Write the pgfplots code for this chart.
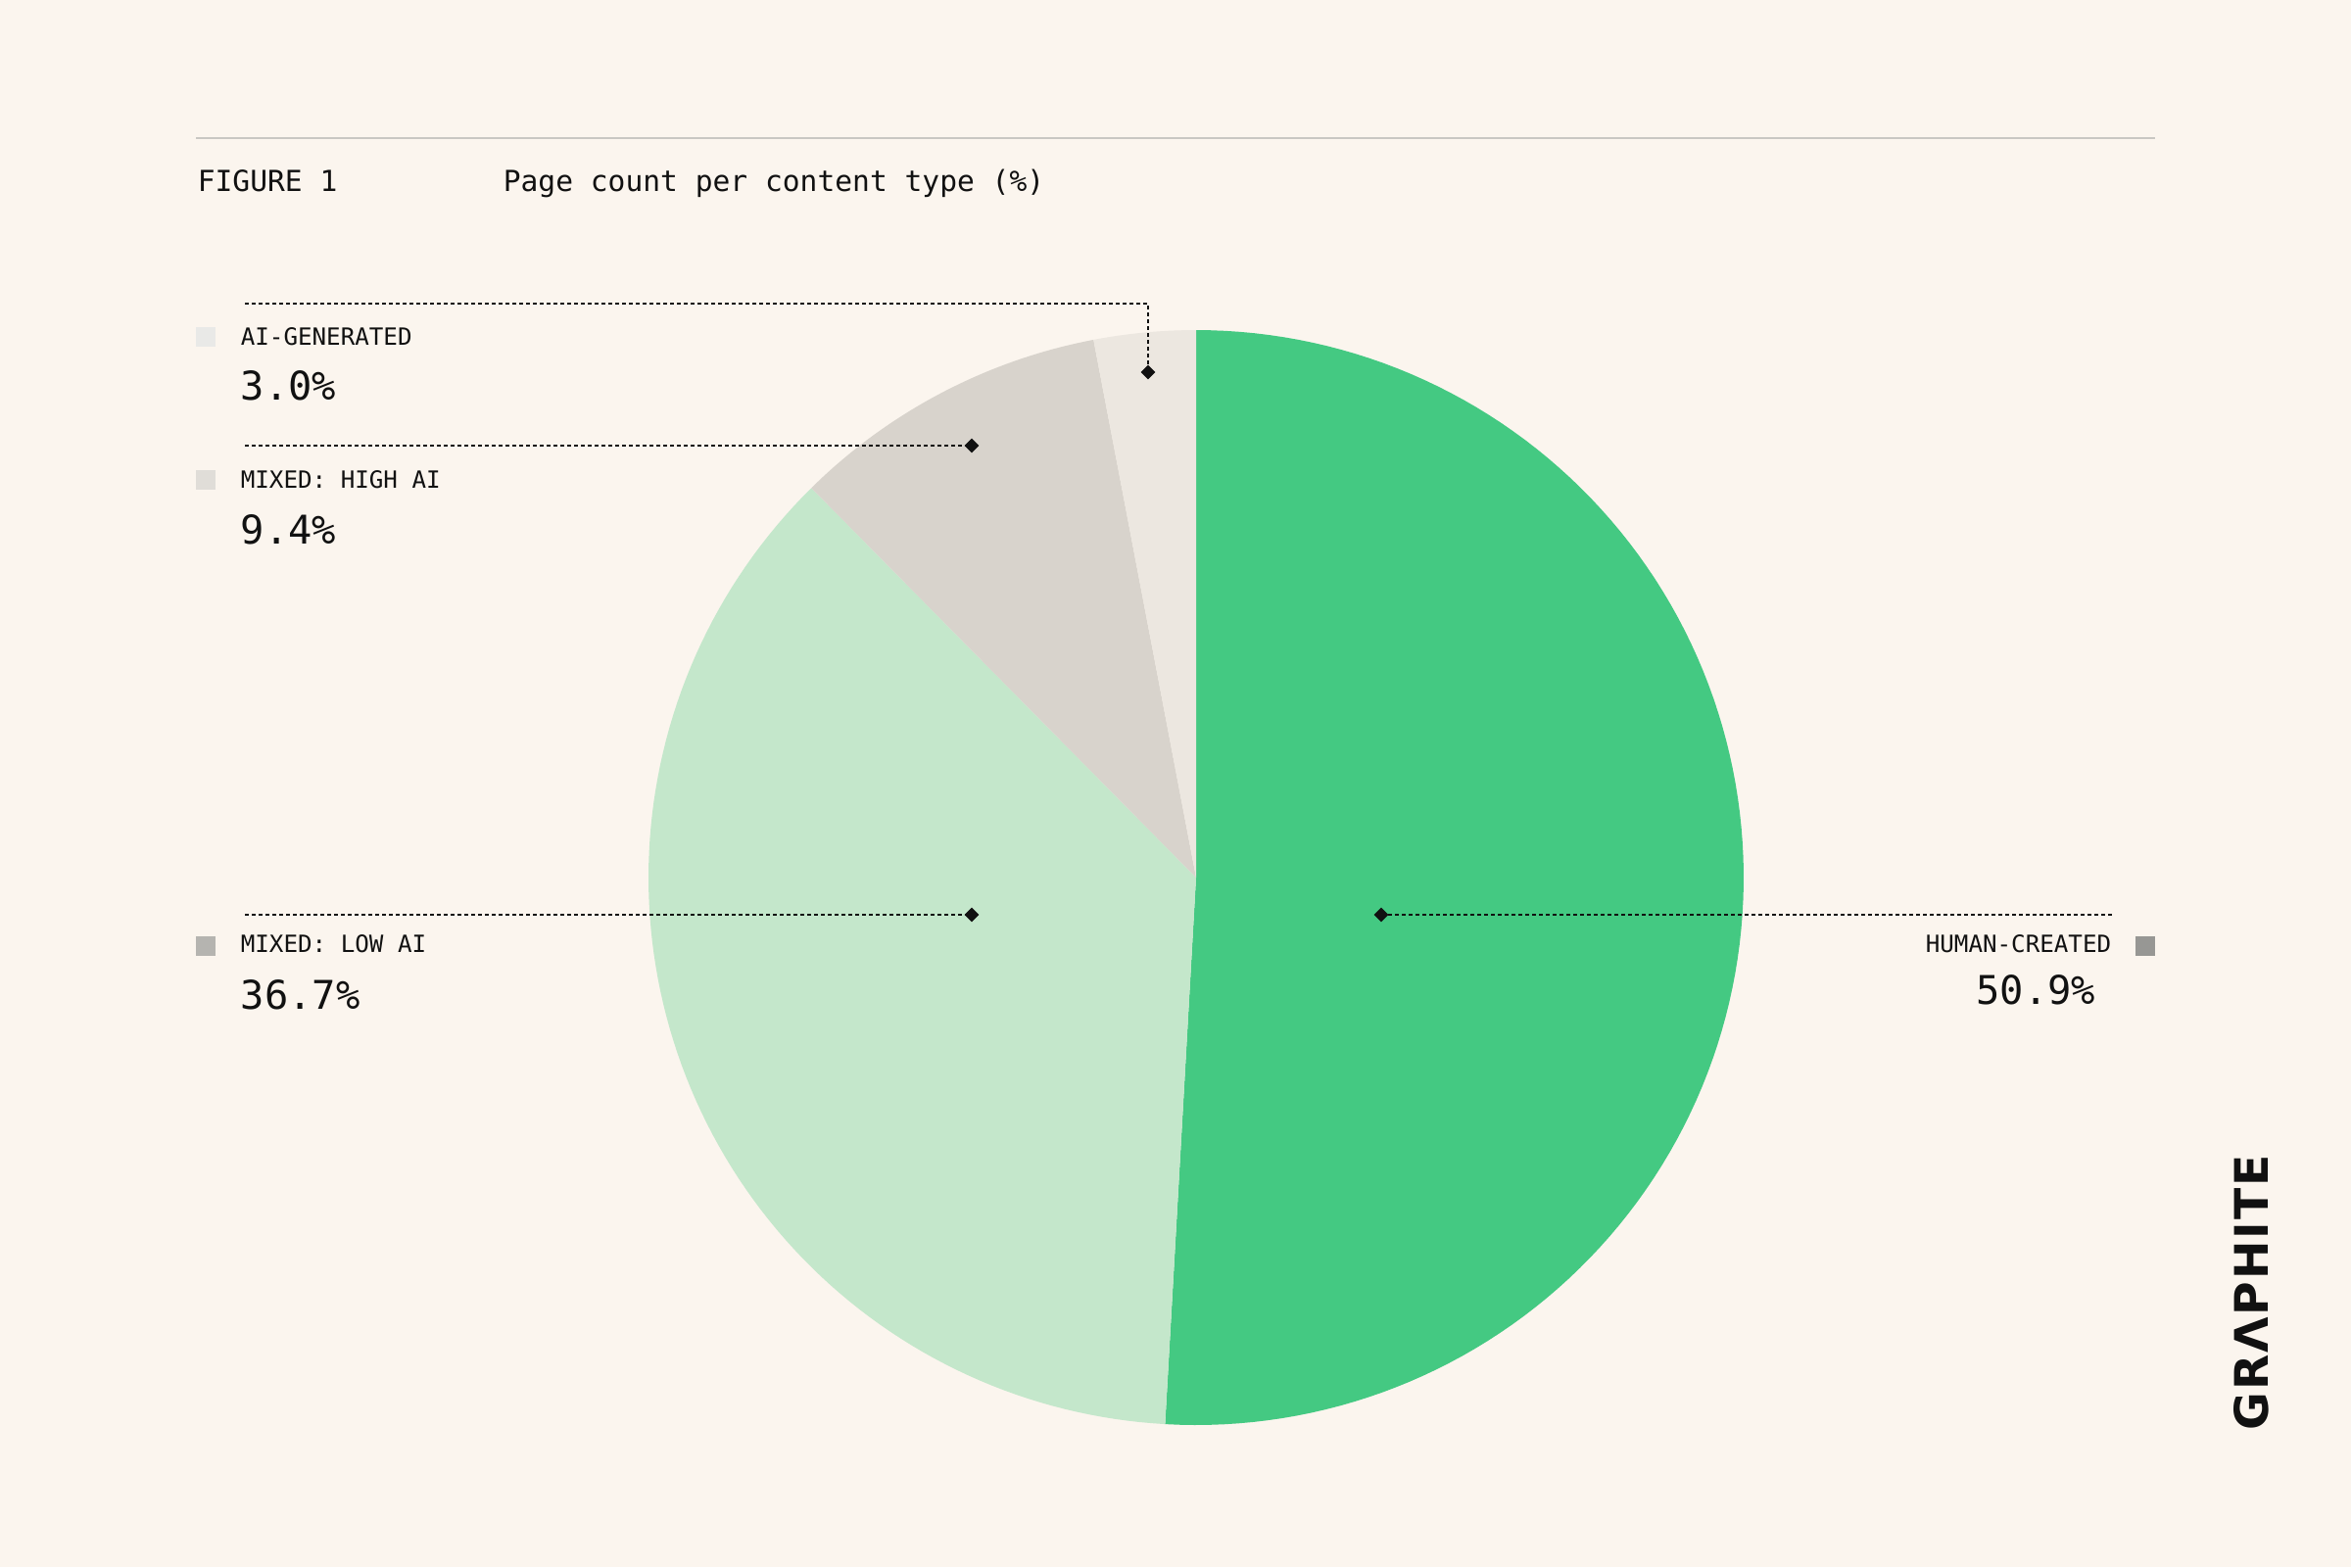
\documentclass[border=0pt]{standalone}
\usepackage{pgfplots}
\pgfplotsset{compat=1.18}
\usepackage{fontspec}
\setmainfont{DejaVu Sans Mono}
\newfontfamily\mono{DejaVu Sans Mono}
\newfontfamily\logofont[LetterSpace=4]{DejaVu Sans}

\definecolor{bg}{HTML}{FBF5EE}
\definecolor{rule}{HTML}{C9C7C2}
\definecolor{human}{HTML}{44C982}
\definecolor{lowai}{HTML}{C4E7CB}
\definecolor{highai}{HTML}{D8D3CC}
\definecolor{aigen}{HTML}{ECE7E0}
\definecolor{sqaigen}{HTML}{E9E9E7}
\definecolor{sqhigh}{HTML}{E0DDD8}
\definecolor{sqlow}{HTML}{B5B4B0}
\definecolor{sqhuman}{HTML}{979794}
\definecolor{ink}{HTML}{111111}

% centre and radius of the pie, in picture pixels
\def\cx{1221}
\def\cy{896}
\def\rr{559}

\begin{document}
\begin{tikzpicture}
\begin{axis}[
    scale only axis,
    width=600pt, height=400pt,
    xmin=0, xmax=2400,
    ymin=0, ymax=1600,
    y dir=reverse,
    hide axis,
    clip=false,
]
% background and top rule
\fill[bg] (axis cs:0,0) rectangle (axis cs:2400,1600);
\addplot[rule, line width=0.5pt] coordinates {(200,141) (2200,141)};

% slices: 50.9, 36.7, 9.4, 3.0 (percent), clockwise from 12 o'clock
\addplot[fill=human, draw=none, domain=90-3.6*50.9:90, samples=120, variable=\t]
    ({\cx+\rr*cos(\t)}, {\cy-\rr*sin(\t)}) -- (axis cs:\cx,\cy) -- cycle;
\addplot[fill=lowai, draw=none, domain=90-3.6*87.6:90-3.6*50.9, samples=100, variable=\t]
    ({\cx+\rr*cos(\t)}, {\cy-\rr*sin(\t)}) -- (axis cs:\cx,\cy) -- cycle;
\addplot[fill=highai, draw=none, domain=90-3.6*97.0:90-3.6*87.6, samples=40, variable=\t]
    ({\cx+\rr*cos(\t)}, {\cy-\rr*sin(\t)}) -- (axis cs:\cx,\cy) -- cycle;
\addplot[fill=aigen, draw=none, domain=90-3.6*100:90-3.6*97.0, samples=20, variable=\t]
    ({\cx+\rr*cos(\t)}, {\cy-\rr*sin(\t)}) -- (axis cs:\cx,\cy) -- cycle;

% leader lines
\pgfplotsset{leader/.style={ink, line width=0.5pt, dash pattern=on 1pt off 0.75pt}}
\addplot[leader] coordinates {(250,310) (1172,310) (1172,380)};
\addplot[leader] coordinates {(250,455) (992,455)};
\addplot[leader] coordinates {(250,934) (992,934)};
\addplot[leader] coordinates {(1410,934) (2156,934)};
\addplot[only marks, color=ink, mark=square*, mark size=1.1pt, mark options={rotate=45}]
    coordinates {(1172,380) (992,455) (992,934) (1410,934)};

% legend squares
\addplot[only marks, color=sqaigen, mark=square*, mark size=2.4pt] coordinates {(210,344)};
\addplot[only marks, color=sqhigh, mark=square*, mark size=2.4pt] coordinates {(210,490)};
\addplot[only marks, color=sqlow, mark=square*, mark size=2.4pt] coordinates {(210,966)};
\addplot[only marks, color=sqhuman, mark=square*, mark size=2.4pt] coordinates {(2190,966)};

% header
\node[anchor=base west, inner sep=0pt, text=ink, font=\mono\fontsize{7.4}{9}\selectfont] at (axis cs:201,195) {FIGURE 1};
\node[anchor=base west, inner sep=0pt, text=ink, font=\mono\fontsize{7.4}{9}\selectfont] at (axis cs:513,195) {Page count per content type (\%)};

% labels
\tikzset{lab/.style={inner sep=0pt, text=ink, font=\mono\fontsize{6.05}{7}\selectfont},
         val/.style={inner sep=0pt, text=ink, font=\mono\fontsize{10.1}{12}\selectfont}}
\node[lab, anchor=base west] at (axis cs:245,352) {AI-GENERATED};
\node[val, anchor=base west] at (axis cs:245,408) {3.0\%};
\node[lab, anchor=base west] at (axis cs:245,498) {MIXED: HIGH AI};
\node[val, anchor=base west] at (axis cs:245,555) {9.4\%};
\node[lab, anchor=base west] at (axis cs:245,972) {MIXED: LOW AI};
\node[val, anchor=base west] at (axis cs:245,1030) {36.7\%};
\node[lab, anchor=base east] at (axis cs:2156,972) {HUMAN-CREATED};
\node[val, anchor=base east] at (axis cs:2140,1025) {50.9\%};

% logo
\node[rotate=90, inner sep=0pt, text=ink, font=\logofont\bfseries\fontsize{11.8}{14}\selectfont]
    at (axis cs:2298,1320) {GRΛPHITE};
\end{axis}
\end{tikzpicture}
\end{document}
